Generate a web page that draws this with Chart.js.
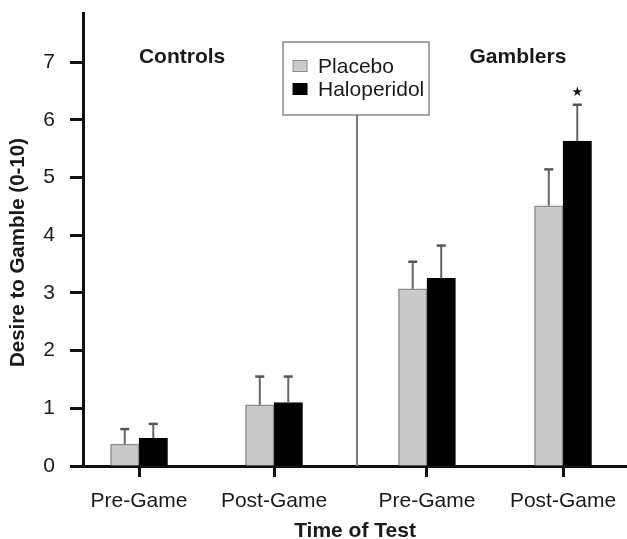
<!DOCTYPE html>
<html>
<head>
<meta charset="utf-8">
<script src="https://cdn.jsdelivr.net/npm/chart.js@4"></script>
<style>
html,body{margin:0;padding:0;background:#fff;}
#wrap{width:627px;height:539px;}
</style>
</head>
<body>
<div id="wrap"><canvas id="c" width="627" height="539"></canvas></div>
<script>
// ---- data ----
const categories = ['Pre-Game', 'Post-Game', 'Pre-Game', 'Post-Game'];
const categoryPos = [1, 2, 3.133, 4.141];
const groups = ['Controls', 'Gamblers'];
const seriesNames = ['Placebo', 'Haloperidol'];
const placebo = [0.38, 1.06, 3.07, 4.51];
const haloperidol = [0.48, 1.10, 3.25, 5.63];
const placeboErr = [0.26, 0.49, 0.47, 0.63];
const haloperidolErr = [0.25, 0.45, 0.57, 0.63];
const significant = [false, false, false, true];
const yTicks = [0, 1, 2, 3, 4, 5, 6, 7];
const xTitle = 'Time of Test';
const yTitle = 'Desire to Gamble (0-10)';

const FONT = "'Liberation Sans', Arial, Helvetica, sans-serif";
Chart.defaults.font.family = FONT;
Chart.defaults.color = '#1a1a1a';

const annot = {
  id: 'annot',
  afterDatasetsDraw(chart) {
    const ctx = chart.ctx, ys = chart.scales.y;
    const vals = [placebo, haloperidol];
    const errs = [placeboErr, haloperidolErr];
    vals.forEach((arr, di) => {
      const meta = chart.getDatasetMeta(di);
      meta.data.forEach((bar, i) => {
        const top = ys.getPixelForValue(arr[i]);
        const tip = ys.getPixelForValue(arr[i] + errs[di][i]);
        ctx.save();
        ctx.strokeStyle = '#666';
        ctx.lineWidth = 2;
        ctx.beginPath(); ctx.moveTo(bar.x, top); ctx.lineTo(bar.x, tip); ctx.stroke();
        ctx.lineWidth = 2.5;
        ctx.strokeStyle = '#555';
        ctx.beginPath(); ctx.moveTo(bar.x - 4.5, tip); ctx.lineTo(bar.x + 4.5, tip); ctx.stroke();
        if (di === 1 && significant[i]) {
          ctx.fillStyle = '#111';
          ctx.font = "13px 'DejaVu Sans', sans-serif";
          ctx.textAlign = 'center';
          ctx.textBaseline = 'middle';
          ctx.fillText('\u2605', bar.x, tip - 12);
        }
        ctx.restore();
      });
    });
  },
  afterDraw(chart) {
    const ctx = chart.ctx, xs = chart.scales.x, ys = chart.scales.y;
    const divX = xs.getPixelForValue(2.615);
    const box = {l: divX - 74, r: divX + 72, t: 42, b: 115};
    ctx.save();
    // divider
    ctx.strokeStyle = '#777';
    ctx.lineWidth = 2;
    ctx.beginPath(); ctx.moveTo(divX, box.b); ctx.lineTo(divX, ys.getPixelForValue(0)); ctx.stroke();
    // legend box
    ctx.fillStyle = '#fff';
    ctx.fillRect(box.l, box.t, box.r - box.l, box.b - box.t);
    ctx.strokeStyle = '#888';
    ctx.lineWidth = 1.5;
    ctx.strokeRect(box.l, box.t, box.r - box.l, box.b - box.t);
    const items = [
      {text: seriesNames[0], fill: '#c9c9c9', stroke: '#8c8c8c', cy: 66},
      {text: seriesNames[1], fill: '#000', stroke: '#000', cy: 89}
    ];
    ctx.font = '21px ' + FONT;
    ctx.textAlign = 'left';
    ctx.textBaseline = 'middle';
    items.forEach(it => {
      ctx.fillStyle = it.fill;
      ctx.fillRect(box.l + 10, it.cy - 5.5, 14, 11);
      ctx.strokeStyle = it.stroke;
      ctx.lineWidth = 1;
      ctx.strokeRect(box.l + 10, it.cy - 5.5, 14, 11);
      ctx.fillStyle = '#1a1a1a';
      ctx.fillText(it.text, box.l + 35, it.cy + 1);
    });
    // group labels
    ctx.font = 'bold 21px ' + FONT;
    ctx.textAlign = 'center';
    const gy = ys.getPixelForValue(7.09);
    ctx.fillText(groups[0], xs.getPixelForValue(1.319), gy);
    ctx.fillText(groups[1], xs.getPixelForValue(3.807), gy);
    // y title
    ctx.translate(18, 252.5);
    ctx.rotate(-Math.PI / 2);
    ctx.font = 'bold 20.5px ' + FONT;
    ctx.fillText(yTitle, 0, 0);
    ctx.restore();
  }
};

new Chart(document.getElementById('c'), {
  type: 'bar',
  data: {
    datasets: [
      {
        label: seriesNames[0],
        data: categoryPos.map((x, i) => ({x: x, y: placebo[i]})),
        backgroundColor: '#c9c9c9',
        borderColor: '#8c8c8c',
        borderWidth: 1.5,
        barThickness: 28.5
      },
      {
        label: seriesNames[1],
        data: categoryPos.map((x, i) => ({x: x, y: haloperidol[i]})),
        backgroundColor: '#000',
        borderColor: '#000',
        borderWidth: 1,
        barThickness: 28.5
      }
    ]
  },
  options: {
    responsive: false,
    animation: false,
    devicePixelRatio: 1,
    layout: {padding: {left: 0, right: 0, top: 13, bottom: 0}},
    plugins: {legend: {display: false}, tooltip: {enabled: false}},
    scales: {
      x: {
        type: 'linear',
        min: 0.585,
        max: 4.615,
        offset: false,
        afterBuildTicks: s => { s.ticks = categoryPos.map(v => ({value: v})); },
        afterFit: s => { s.height = 73; s.paddingLeft = 0; s.paddingRight = 0; },
        ticks: {
          autoSkip: false,
          maxRotation: 0,
          padding: 12,
          font: {size: 21},
          color: '#1a1a1a',
          callback: (v, i) => categories[i]
        },
        grid: {drawOnChartArea: false, offset: false, drawTicks: true, tickLength: 11, tickWidth: 3, tickColor: '#111'},
        border: {display: true, color: '#111', width: 3},
        title: {display: true, text: xTitle, font: {size: 21, weight: 'bold'}, color: '#1a1a1a', padding: {top: 0, bottom: -5}}
      },
      y: {
        min: 0,
        max: 7.85,
        afterBuildTicks: s => { s.ticks = yTicks.map(v => ({value: v})); },
        afterFit: s => { s.width = 83; s.paddingTop = 0; s.paddingBottom = 0; },
        ticks: {padding: 15, font: {size: 21}, color: '#1a1a1a'},
        grid: {drawOnChartArea: false, drawTicks: true, tickLength: 13, tickWidth: 3, tickColor: '#111'},
        border: {display: true, color: '#111', width: 3},
        title: {display: false}
      }
    }
  },
  plugins: [annot]
});
</script>
</body>
</html>
